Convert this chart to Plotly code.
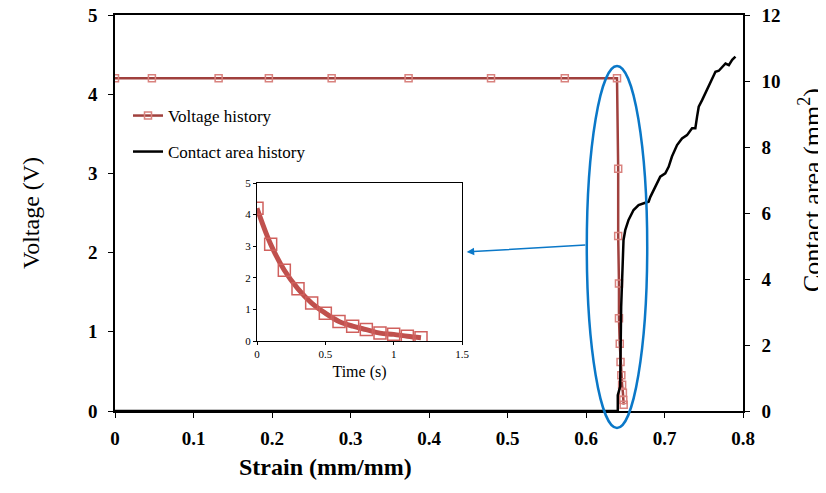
import plotly.graph_objects as go

# Voltage history (main chart, left axis)
strain_v = [0, 0.047, 0.132, 0.196, 0.276, 0.374, 0.479, 0.573, 0.6395,
            0.641, 0.641, 0.642, 0.642, 0.643, 0.644, 0.645, 0.646, 0.647, 0.6475, 0.648]
voltage_v = [4.2, 4.2, 4.2, 4.2, 4.2, 4.2, 4.2, 4.2, 4.2,
             3.06, 2.21, 1.61, 1.17, 0.85, 0.62, 0.45, 0.33, 0.23, 0.14, 0.08]

# Contact area history (main chart, right axis)
strain_c = [0, 0.6405, 0.6405, 0.6435, 0.6448, 0.6465, 0.6478, 0.650, 0.6542, 0.6606, 0.667,
            0.6755, 0.6798, 0.682, 0.6882, 0.6946, 0.701, 0.7053, 0.7095, 0.716, 0.7223,
            0.7287, 0.7351, 0.7393, 0.7415, 0.7436, 0.7479, 0.7521, 0.7564, 0.7607, 0.7649,
            0.7692, 0.7734, 0.7777, 0.782, 0.7862, 0.7904]
area_c = [0, 0, 0.48, 0.74, 3.16, 4.68, 5.18, 5.48, 5.79, 6.09, 6.24,
          6.31, 6.34, 6.49, 6.8, 7.1, 7.2, 7.4, 7.71, 8.06, 8.26,
          8.36, 8.57, 8.57, 8.92, 9.22, 9.42, 9.63, 9.83, 10.03, 10.28,
          10.31, 10.43, 10.53, 10.48, 10.64, 10.74]

# Inset: voltage decay over time
time_i = [0, 0.1, 0.2, 0.3, 0.4, 0.5, 0.6, 0.7, 0.8, 0.9, 1.0, 1.1, 1.2]
voltage_i = [4.2, 3.06, 2.24, 1.65, 1.2, 0.88, 0.62, 0.47, 0.36, 0.25, 0.21, 0.15, 0.1]

# Blue ellipse around the drop (data units) and arrow to the inset
ell_x = [0.601, 0.678]
ell_y = [-0.215, 4.356]
arrow_tail = (0.601, 2.096)
arrow_head = (0.448, 2.008)

SERIF = "Liberation Serif"
red_dark = "#A0403D"
red_light = "#D9827E"
blue = "#0A78C8"

# the page body adds an 8px margin, so the figure is made 8px smaller
OFF = 8
W, H = 826 - OFF, 493 - OFF
L, T = 115 - OFF, 15 - OFF
R, B = W - (743 - OFF), H - (411 - OFF)
pw, ph = W - L - R, H - T - B


def px_x(p):
    return (p - OFF - L) / pw


def px_y(p):
    return (T + ph - (p - OFF)) / ph


fig = go.Figure()

fig.add_trace(go.Scatter(x=strain_v, y=voltage_v, mode="lines+markers", name="Voltage history",
                         line=dict(color=red_dark, width=2.5),
                         marker=dict(symbol="square-open", size=7, color=red_light, line=dict(width=1.5)),
                         xaxis="x", yaxis="y", legend="legend"))
fig.add_trace(go.Scatter(x=strain_c, y=area_c, mode="lines", name="Contact area history",
                         line=dict(color="black", width=2.5),
                         xaxis="x", yaxis="y3", legend="legend2"))

# inset
fig.add_trace(go.Scatter(x=time_i, y=voltage_i, mode="lines", line=dict(color="#C0504D", width=5, shape="spline"),
                         xaxis="x2", yaxis="y2", showlegend=False))
fig.add_trace(go.Scatter(x=time_i, y=voltage_i, mode="markers",
                         marker=dict(symbol="square-open", size=12, color="#D0605D", line=dict(width=1.5)),
                         xaxis="x2", yaxis="y2", showlegend=False))

bold_tick = dict(family=SERIF, size=19, color="black", weight="bold")

fig.update_layout(
    width=W, height=H,
    margin=dict(l=L, r=R, t=T, b=B, autoexpand=False),
    plot_bgcolor="white", paper_bgcolor="white",
    xaxis=dict(domain=[0, 1], range=[0, 0.8], dtick=0.1, showline=True, mirror=True, linecolor="black",
               linewidth=1.5, ticks="outside", ticklen=5, tickcolor="black", showgrid=False, zeroline=False,
               tickfont=bold_tick, ticklabelstandoff=4, anchor="y", automargin=False),
    yaxis=dict(domain=[0, 1], range=[0, 5], dtick=1, showline=True, linecolor="black", linewidth=1.5,
               ticks="outside", ticklen=5, tickcolor="black", showgrid=False, zeroline=False, automargin=False,
               ticklabeloverflow="allow", tickfont=bold_tick, ticklabelstandoff=7,
               title=dict(text="Voltage (V)", font=dict(family=SERIF, size=24, color="black"), standoff=42)),
    yaxis3=dict(range=[0, 12], dtick=2, overlaying="y", side="right", anchor="x", showline=True,
                linecolor="black", linewidth=1.5, ticks="outside", ticklen=5, tickcolor="black",
                showgrid=False, zeroline=False, tickfont=bold_tick, ticklabelstandoff=8,
                automargin=False, ticklabeloverflow="allow"),
    xaxis2=dict(domain=[px_x(257), px_x(462)], range=[0, 1.5], dtick=0.5, anchor="y2", showline=True,
                mirror=True, linecolor="black", linewidth=1.2, ticks="outside", ticklen=3, tickcolor="black",
                showgrid=False, zeroline=False, tickfont=dict(family=SERIF, size=11, color="black"),
                automargin=False,
                title=dict(text="Time (s)", font=dict(family=SERIF, size=16, color="black"), standoff=6)),
    yaxis2=dict(domain=[px_y(341), px_y(183)], range=[0, 5], dtick=1, anchor="x2", showline=True, mirror=True,
                linecolor="black", linewidth=1.2, ticks="outside", ticklen=3, tickcolor="black", automargin=False,
                showgrid=False, zeroline=False, tickfont=dict(family=SERIF, size=11, color="black")),
    legend=dict(x=px_x(128), y=px_y(116), xanchor="left", yanchor="middle",
                bgcolor="rgba(0,0,0,0)", font=dict(family=SERIF, size=17, color="black"), itemwidth=30),
    legend2=dict(x=px_x(128), y=px_y(152), xanchor="left", yanchor="middle",
                 bgcolor="rgba(0,0,0,0)", font=dict(family=SERIF, size=17, color="black"), itemwidth=30),
)

# ellipse around the voltage drop, in axis-domain fractions so it is not clipped
fig.add_shape(type="circle", xref="x domain", yref="y domain",
              x0=ell_x[0] / 0.8, x1=ell_x[1] / 0.8, y0=ell_y[0] / 5, y1=ell_y[1] / 5,
              line=dict(color=blue, width=2.5), layer="above")

fig.add_annotation(x=arrow_head[0], y=arrow_head[1], ax=arrow_tail[0], ay=arrow_tail[1],
                   xref="x", yref="y", axref="x", ayref="y", text="", showarrow=True,
                   arrowhead=2, arrowsize=1, arrowwidth=1.5, arrowcolor=blue)

# x title and right title placed like the original
fig.add_annotation(x=px_x(325), y=px_y(467), xref="paper", yref="paper",
                   text="<b>Strain (mm/mm)</b>", showarrow=False, yanchor="middle",
                   font=dict(family=SERIF, size=24, color="black"))
fig.add_annotation(text="Contact area (mm<sup>2</sup>)", textangle=-90, showarrow=False,
                   xref="paper", yref="paper", x=px_x(810), y=px_y(190),
                   xanchor="center", yanchor="middle",
                   font=dict(family=SERIF, size=26, color="black"))

fig.write_html("out.html")
